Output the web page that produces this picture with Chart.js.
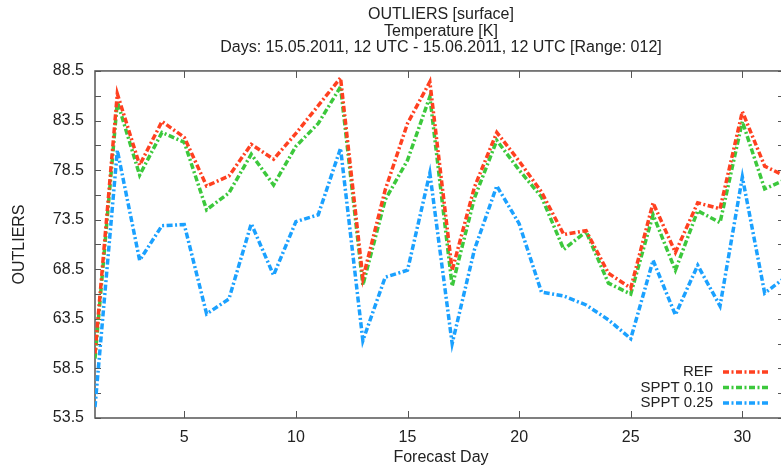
<!DOCTYPE html>
<html>
<head>
<meta charset="utf-8">
<script src="https://cdn.jsdelivr.net/npm/chart.js@4/dist/chart.umd.min.js"></script>
<style>
    html, body { margin: 0; padding: 0; background: #fff; overflow: hidden; }
    #wrap { width: 800px; height: 467px; }
</style>
</head>
<body>
<div id="wrap"><canvas id="grafico" width="800" height="467"></canvas></div>
<script>
// Dados (dia de previsão x outliers)
const dias = [1, 2, 3, 4, 5, 6, 7, 8, 9, 10, 11, 12, 13, 14, 15, 16,
              17, 18, 19, 20, 21, 22, 23, 24, 25, 26, 27, 28, 29, 30, 31, 32];

const serieRef = [60.0, 86.2, 79.0, 83.4, 81.8, 76.9, 77.9, 81.1, 79.6, 82.2, 85.0, 87.8, 67.6, 76.5, 83.2, 87.4,
                  68.4, 76.8, 82.3, 79.4, 76.3, 72.0, 72.4, 68.1, 66.6, 75.2, 70.2, 75.2, 74.6, 84.4, 78.9, 77.8];

const serieSppt010 = [59.5, 85.4, 78.0, 82.3, 81.3, 74.5, 76.2, 80.1, 77.0, 80.9, 83.2, 86.9, 66.9, 75.5, 79.5, 85.9,
                      66.8, 75.7, 81.5, 78.5, 75.8, 70.5, 72.3, 67.1, 66.0, 74.0, 68.4, 74.4, 73.2, 83.4, 76.6, 77.6];

const serieSppt025 = [54.6, 80.5, 69.4, 72.9, 73.0, 64.0, 65.5, 73.1, 67.9, 73.3, 74.0, 80.7, 61.3, 67.7, 68.4, 78.2,
                      61.0, 70.5, 76.9, 73.1, 66.2, 65.8, 64.9, 63.4, 61.5, 69.4, 63.9, 68.9, 64.8, 77.8, 66.1, 67.8];

const nomesSeries = ["REF", "SPPT 0.10", "SPPT 0.25"];

const ticksX = [5, 10, 15, 20, 25, 30];
const ticksY = [53.5, 58.5, 63.5, 68.5, 73.5, 78.5, 83.5, 88.5];
const ticksYMenores = [56, 61, 66, 71, 76, 81, 86];

const titulo = [
    "OUTLIERS [surface]",
    "Temperature [K]",
    "Days: 15.05.2011, 12 UTC - 15.06.2011, 12 UTC [Range: 012]"
];

const fonte = "'Liberation Sans', Arial, sans-serif";
const corTexto = "#222";
const corEixo = "#555";
const tracejado = [6, 2.5, 2, 2.5];

Chart.defaults.font.family = fonte;
Chart.defaults.color = corTexto;

function pontos(serie) {
    return dias.map((d, i) => ({ x: d, y: serie[i] }));
}

// Moldura, marcas internas dos eixos e legenda
const molduraPlugin = {
    id: "moldura",
    beforeDatasetsDraw(chart) {
        const { ctx, chartArea: a, scales: { x, y } } = chart;
        ctx.save();
        ctx.strokeStyle = corEixo;
        ctx.lineWidth = 1.5;
        ctx.strokeRect(a.left, a.top, a.right - a.left, a.bottom - a.top);
        ctx.lineWidth = 1;
        ctx.beginPath();
        ticksX.forEach(v => {
            const px = Math.round(x.getPixelForValue(v)) + 0.5;
            ctx.moveTo(px, a.bottom); ctx.lineTo(px, a.bottom - 7);
            ctx.moveTo(px, a.top); ctx.lineTo(px, a.top + 7);
        });
        ticksY.concat(ticksYMenores).forEach(v => {
            const py = Math.round(y.getPixelForValue(v)) + 0.5;
            ctx.moveTo(a.left, py); ctx.lineTo(a.left + 6, py);
            ctx.moveTo(a.right, py); ctx.lineTo(a.right - 9, py);
        });
        ctx.stroke();
        ctx.restore();
    },
    afterDatasetsDraw(chart) {
        const { ctx } = chart;
        const linhasY = [372, 387.5, 403];
        ctx.save();
        ctx.font = "15px " + fonte;
        ctx.textAlign = "right";
        ctx.textBaseline = "middle";
        chart.data.datasets.forEach((ds, i) => {
            ctx.fillStyle = corTexto;
            ctx.fillText(ds.label, 713, linhasY[i]);
            ctx.strokeStyle = ds.borderColor;
            ctx.lineWidth = ds.borderWidth;
            ctx.setLineDash(ds.borderDash);
            ctx.beginPath();
            ctx.moveTo(723, linhasY[i]);
            ctx.lineTo(768, linhasY[i]);
            ctx.stroke();
        });
        ctx.restore();
    }
};

new Chart(document.getElementById("grafico"), {
    type: "line",
    data: {
        datasets: [
            {
                label: nomesSeries[0],
                data: pontos(serieRef),
                borderColor: "#ff4020",
                borderWidth: 3.5,
                borderDash: tracejado,
                pointRadius: 0,
                fill: false
            },
            {
                label: nomesSeries[1],
                data: pontos(serieSppt010),
                borderColor: "#3cc83c",
                borderWidth: 3.5,
                borderDash: tracejado,
                pointRadius: 0,
                fill: false
            },
            {
                label: nomesSeries[2],
                data: pontos(serieSppt025),
                borderColor: "#1ba1ff",
                borderWidth: 3.5,
                borderDash: tracejado,
                pointRadius: 0,
                fill: false
            }
        ]
    },
    options: {
        responsive: false,
        animation: false,
        devicePixelRatio: 1,
        layout: { padding: { left: 0, right: 13, top: 0, bottom: 0 } },
        plugins: {
            legend: { display: false },
            tooltip: { enabled: false },
            title: {
                display: true,
                fullSize: false,
                text: titulo,
                color: corTexto,
                font: { size: 16, weight: "normal", family: fonte, lineHeight: 1.03 },
                padding: { top: 6.5, bottom: 15 }
            }
        },
        scales: {
            x: {
                type: "linear",
                min: 1,
                max: 32,
                grid: { display: false, drawTicks: false },
                border: { display: false },
                afterBuildTicks: s => { s.ticks = ticksX.map(v => ({ value: v })); },
                afterFit: s => { s.height = 49; },
                ticks: { padding: 10, font: { size: 16 }, color: corTexto },
                title: {
                    display: true,
                    text: "Forecast Day",
                    font: { size: 16, lineHeight: 1.1 },
                    color: corTexto,
                    padding: { top: 0, bottom: 0.2 }
                }
            },
            y: {
                type: "linear",
                min: 53.5,
                max: 88.5,
                grid: { display: false, drawTicks: false },
                border: { display: false },
                afterBuildTicks: s => { s.ticks = ticksY.map(v => ({ value: v })); },
                afterFit: s => { s.width = 95; },
                ticks: {
                    padding: 11,
                    font: { size: 16 },
                    color: corTexto,
                    callback: v => Number(v).toFixed(1)
                },
                title: {
                    display: true,
                    text: "OUTLIERS",
                    font: { size: 16, lineHeight: 1.2 },
                    color: corTexto,
                    padding: { top: 10.4, bottom: 0 }
                }
            }
        }
    },
    plugins: [molduraPlugin]
});
</script>
</body>
</html>
